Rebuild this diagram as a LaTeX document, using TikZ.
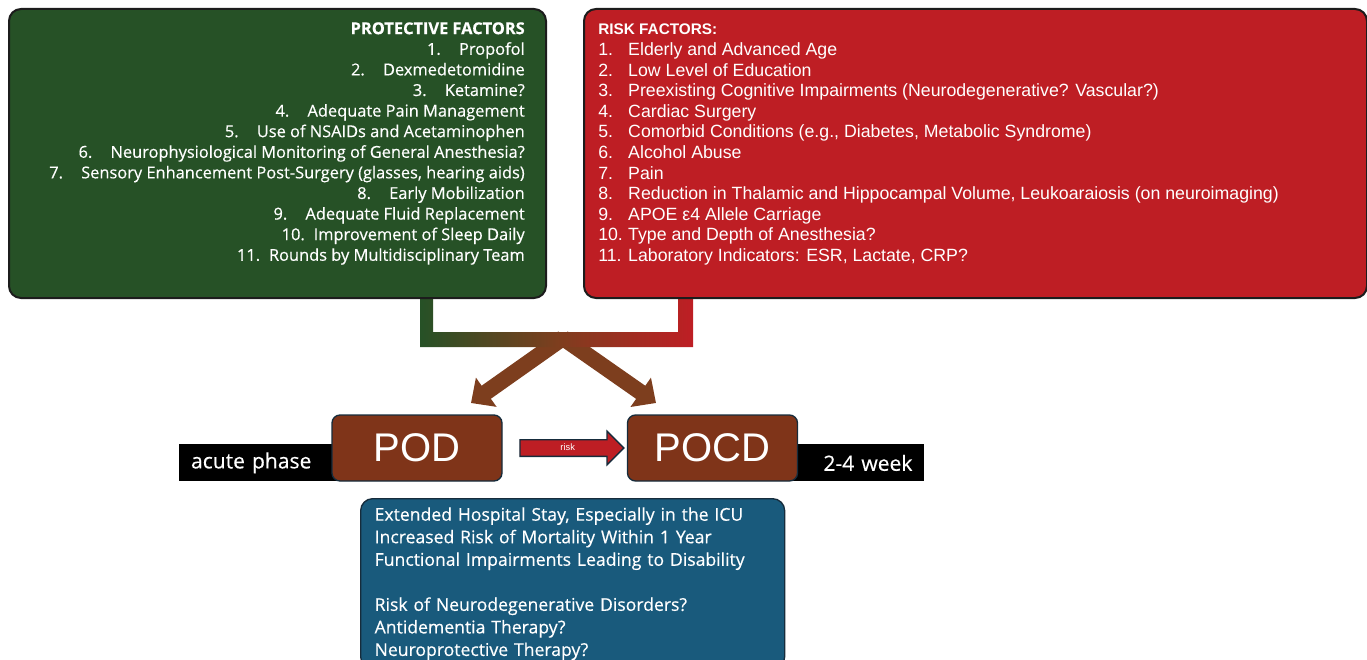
\documentclass[tikz,border=0pt]{standalone}
\usepackage{fontspec}
\setmainfont{Open Sans}[FakeBold=0.4]
\newfontfamily\arialfont{Liberation Sans}
\usetikzlibrary{shapes.arrows,arrows.meta,calc,backgrounds}
\definecolor{protgreen}{RGB}{38,81,38}
\definecolor{riskred}{RGB}{190,30,36}
\definecolor{podbrown}{RGB}{127,52,25}
\definecolor{arrowbrown}{RGB}{125,62,30}
\definecolor{outblue}{RGB}{25,90,124}
\definecolor{boxedge}{RGB}{28,28,28}
\definecolor{podedge}{RGB}{22,44,60}
\tikzstyle{factorbox} = [rectangle, rounded corners=9pt, draw=boxedge, line width=1.5pt, anchor=north west, inner sep=0pt, minimum height=216.75pt]
\tikzstyle{factorlist} = [text=white, inner sep=0pt]
\tikzstyle{phasebox} = [rectangle, rounded corners=6pt, draw=podedge, line width=1pt, fill=podbrown, text=white, minimum width=127.5pt, minimum height=49.5pt, font=\arialfont\fontsize{30}{32}\selectfont]
\tikzstyle{band} = [rectangle, fill=black, text=white, minimum height=27.75pt, inner xsep=9pt, font=\fontsize{15.8}{18}\selectfont]
\tikzstyle{fatarrow} = [line width=12pt, draw=arrowbrown, -{Triangle[length=14pt,width=26pt]}]
\tikzstyle{riskarrow} = [single arrow, fill=riskred, draw=podedge, line width=1pt, text=white, minimum height=78pt, single arrow head extend=6.4pt, inner xsep=0pt, inner ysep=2.5pt, text height=5pt, text depth=1.5pt, font=\arialfont\fontsize{7}{8}\selectfont]
\tikzstyle{outcome} = [rectangle, rounded corners=9pt, anchor=north west, fill=outblue, draw=podedge, line width=1pt, text=white, align=left, text width=297pt, inner xsep=10.5pt, inner ysep=6.5pt, font=\fontsize{13.2}{16.9}\selectfont]
\newcommand{\gitem}[2]{\makebox[1.95em][l]{#1.}#2}
\newcommand{\ritem}[2]{\makebox[1.69em][l]{#1.}#2}

\begin{document}
\begin{tikzpicture}[x=0.75pt,y=-0.75pt]
\useasboundingbox (0,0) rectangle (1367,660);

% two arrows out of the joint bar
\coordinate (split) at (563,338);
\coordinate (podin) at (471,403);
\coordinate (pocdin) at (656,403);
\draw [fatarrow] (split) -- (podin);
\draw [fatarrow] (split) -- (pocdin);

% joint bar, green into red
\shade [left color=protgreen, right color=riskred, middle color=arrowbrown]
  (420,290) -- (420,347) -- (693,347) -- (693,290) -- (678,290) -- (678,332) -- (433,332) -- (433,290) -- cycle;

\node (protect) [factorbox, fill=protgreen, minimum width=402.75pt] at (8,8) {};
\node (risk) [factorbox, fill=riskred, minimum width=587.25pt] at (583,8) {};

\node (protectlist) [factorlist, anchor=north east, align=right, font=\fontsize{12.3}{15.45}\selectfont] at (525,22) {%
  \textbf{PROTECTIVE FACTORS}\\
  \gitem{1}{Propofol}\\
  \gitem{2}{Dexmedetomidine}\\
  \gitem{3}{Ketamine?}\\
  \gitem{4}{Adequate Pain Management}\\
  \gitem{5}{Use of NSAIDs and Acetaminophen}\\
  \gitem{6}{Neurophysiological Monitoring of General Anesthesia?}\\
  \gitem{7}{Sensory Enhancement Post-Surgery (glasses, hearing aids)}\\
  \gitem{8}{Early Mobilization}\\
  \gitem{9}{Adequate Fluid Replacement}\\
  \gitem{10}{Improvement of Sleep Daily}\\
  \gitem{11}{Rounds by Multidisciplinary Team}};

\node (risklist) [factorlist, anchor=north west, align=left, font=\arialfont\fontsize{13.3}{15.45}\selectfont] at (598,24) {%
  {\fontsize{11.5}{15.45}\selectfont\bfseries RISK FACTORS:}\\
  \ritem{1}{Elderly and Advanced Age}\\
  \ritem{2}{Low Level of Education}\\
  \ritem{3}{Preexisting Cognitive Impairments (Neurodegenerative? Vascular?)}\\
  \ritem{4}{Cardiac Surgery}\\
  \ritem{5}{Comorbid Conditions (e.g., Diabetes, Metabolic Syndrome)}\\
  \ritem{6}{Alcohol Abuse}\\
  \ritem{7}{Pain}\\
  \ritem{8}{Reduction in Thalamic and Hippocampal Volume, Leukoaraiosis (on neuroimaging)}\\
  \ritem{9}{APOE ε4 Allele Carriage}\\
  \ritem{10}{Type and Depth of Anesthesia?}\\
  \ritem{11}{Laboratory Indicators: ESR, Lactate, CRP?}};

\node (pod) [phasebox] at (417,448) {POD};
\node (pocd) [phasebox] at (712.5,448) {POCD};

\begin{scope}[on background layer]
\node (acute) [band, anchor=south east, align=left, text width=100.5pt] at ($(pod.south west)+(6,0)$) {acute phase};
\node (weeks) [band, anchor=south west, align=right, text width=81pt] at ($(pocd.south east)+(-6,0)$) {2-4 week};
\end{scope}

\node (riskflow) [riskarrow] at ($(pod.east)!0.5!(pocd.west)+(3,0)$) {risk};

\node (outcomes) [outcome] at (360,498) {Extended Hospital Stay, Especially in the ICU\\
  Increased Risk of Mortality Within 1 Year\\
  Functional Impairments Leading to Disability\\[16.9pt]
  Risk of Neurodegenerative Disorders?\\
  Antidementia Therapy?\\
  Neuroprotective Therapy?};
\end{tikzpicture}
\end{document}
